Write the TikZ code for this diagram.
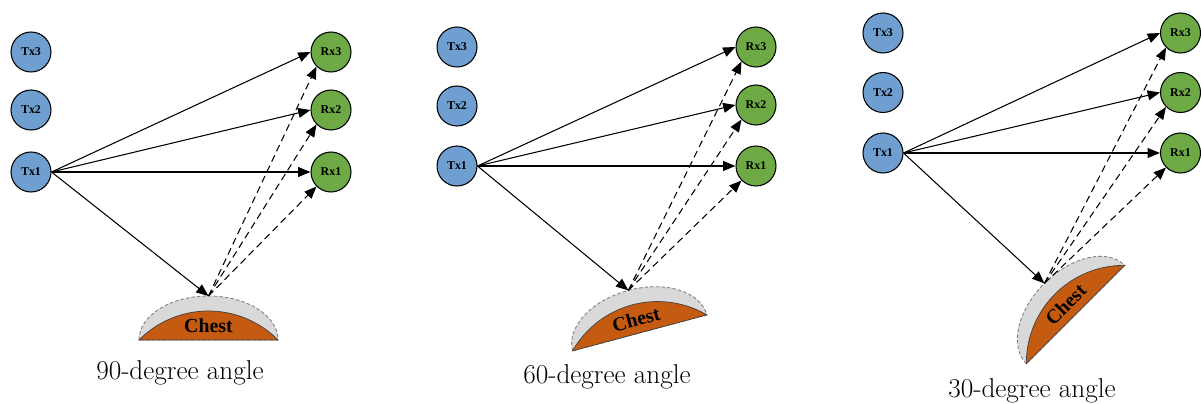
\documentclass[tikz,border=0pt]{standalone}
\usepackage{fontspec}
\newfontfamily\labelfont{Liberation Serif}
\usetikzlibrary{arrows.meta}
\definecolor{TxFill}{HTML}{6F9FD0}
\definecolor{RxFill}{HTML}{6DAA45}
\definecolor{ChestFill}{HTML}{C55A11}
\definecolor{SkinFill}{HTML}{D9D9D9}

\begin{document}
\begin{tikzpicture}[x=0.02cm, y=0.02cm,
  ant/.style={circle, draw, line width=0.6pt, minimum size=0.8cm, inner sep=0pt,
    font={\labelfont\bfseries\fontsize{6.8}{7}\selectfont}},
  tx/.style={ant, fill=TxFill},
  rx/.style={ant, fill=RxFill},
  ray/.style={line width=0.6pt, -{Triangle[length=7pt,width=5.6pt]}},
  echo/.style={ray, dash pattern=on 4pt off 2.5pt},
  skin/.style={fill=SkinFill, draw=gray, line width=0.5pt, dash pattern=on 2pt off 1.2pt},
  chest/.style={fill=ChestFill, draw=black!75, line width=0.4pt},
  chestlabel/.style={font={\labelfont\bfseries\fontsize{11.3}{12}\selectfont}},
  caption/.style={anchor=base, font=\fontsize{15.5}{18}\selectfont}]
  \useasboundingbox (0,0) rectangle (1201,403);

  % 90-degree angle
  \node[tx] (Tx3a) at (31,351) {Tx3};
  \node[tx] (Tx2a) at (31,293) {Tx2};
  \node[tx] (Tx1a) at (31,231) {Tx1};
  \node[rx] (Rx3a) at (331,351) {Rx3};
  \node[rx] (Rx2a) at (331,293) {Rx2};
  \node[rx] (Rx1a) at (331,231) {Rx1};
  \begin{scope}[shift={(208.5,63)}]
    \draw[skin] (-69.5,0) arc[start angle=180, end angle=0, x radius=69.5, y radius=44] -- cycle;
    \draw[chest] (-69.5,0) arc[start angle=135.3, end angle=44.7, radius=97.8] -- cycle;
    \node[chestlabel] (Ca) at (0,14) {Chest};
    \coordinate (Pa) at (0,44);
  \end{scope}
  \draw[ray] (Tx1a.east) -- (Rx3a.west);
  \draw[ray] (Tx1a.east) -- (Rx2a.west);
  \draw[ray] (Tx1a.east) -- (Rx1a.west);
  \draw[ray] (Tx1a.east) -- (Pa);
  \draw[echo] (Pa) -- (Rx3a.south west);
  \draw[echo] (Pa) -- (Rx2a.south west);
  \draw[echo] (Pa) -- (Rx1a.south west);
  \node[caption] (cap90) at (180,24) {90-degree angle};

  % 60-degree angle
  \node[tx] (Tx3b) at (457,356) {Tx3};
  \node[tx] (Tx2b) at (457,297) {Tx2};
  \node[tx] (Tx1b) at (457,237) {Tx1};
  \node[rx] (Rx3b) at (756,356) {Rx3};
  \node[rx] (Rx2b) at (756,298) {Rx2};
  \node[rx] (Rx1b) at (756,237) {Rx1};
  \begin{scope}[shift={(639.7,70.1)}, rotate=15]
    \draw[skin] (-69.5,0) arc[start angle=180, end angle=0, x radius=69.5, y radius=44] -- cycle;
    \draw[chest] (-69.5,0) arc[start angle=135.3, end angle=44.7, radius=97.8] -- cycle;
    \node[chestlabel, rotate=15] (Cb) at (0,14) {Chest};
    \coordinate (Pb) at (0,44);
  \end{scope}
  \draw[ray] (Tx1b.east) -- (Rx3b.west);
  \draw[ray] (Tx1b.east) -- (Rx2b.west);
  \draw[ray] (Tx1b.east) -- (Rx1b.west);
  \draw[ray] (Tx1b.east) -- (Pb);
  \draw[echo] (Pb) -- (Rx3b.south west);
  \draw[echo] (Pb) -- (Rx2b.south west);
  \draw[echo] (Pb) -- (Rx1b.south west);
  \node[caption] (cap60) at (607,20) {60-degree angle};

  % 30-degree angle
  \node[tx] (Tx3c) at (883,370) {Tx3};
  \node[tx] (Tx2c) at (883,310.5) {Tx2};
  \node[tx] (Tx1c) at (883,250) {Tx1};
  \node[rx] (Rx3c) at (1180.5,370) {Rx3};
  \node[rx] (Rx2c) at (1180.5,310.5) {Rx2};
  \node[rx] (Rx1c) at (1180.5,250) {Rx1};
  \begin{scope}[shift={(1075.5,88.5)}, rotate=45]
    \draw[skin] (-69.5,0) arc[start angle=180, end angle=0, x radius=69.5, y radius=44] -- cycle;
    \draw[chest] (-69.5,0) arc[start angle=135.3, end angle=44.7, radius=97.8] -- cycle;
    \node[chestlabel, rotate=45] (Cc) at (0,14) {Chest};
    \coordinate (Pc) at (0,44);
  \end{scope}
  \draw[ray] (Tx1c.east) -- (Rx3c.west);
  \draw[ray] (Tx1c.east) -- (Rx2c.west);
  \draw[ray] (Tx1c.east) -- (Rx1c.west);
  \draw[ray] (Tx1c.east) -- (Pc);
  \draw[echo] (Pc) -- (Rx3c.south west);
  \draw[echo] (Pc) -- (Rx2c.south west);
  \draw[echo] (Pc) -- (Rx1c.south west);
  \node[caption] (cap30) at (1032,6) {30-degree angle};
\end{tikzpicture}
\end{document}
